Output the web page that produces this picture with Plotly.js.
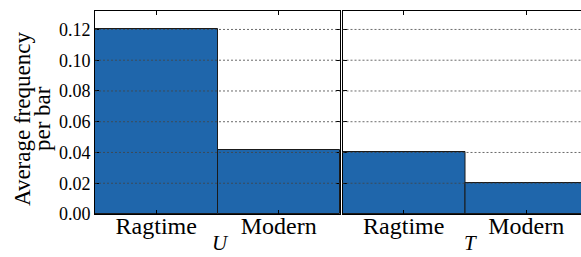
<!DOCTYPE html>
<html><head><meta charset="utf-8">
<script src="https://cdn.plot.ly/plotly-3.0.1.min.js"></script>
<style>
html,body{margin:0;padding:0;background:#fff;}
#chart{width:581px;height:257px;}
</style>
</head><body><div id="chart"></div>
<script>
const categories = ['Ragtime', 'Modern'];
const valuesU = [0.120, 0.0413];
const valuesT = [0.0400, 0.0199];
const yTicks = [0.00, 0.02, 0.04, 0.06, 0.08, 0.10, 0.12];
const yTickLabels = ['0.00', '0.02', '0.04', '0.06', '0.08', '0.10', '0.12'];
const panelTitles = ['U', 'T'];
const yTitleLines = ['Average frequency', 'per bar'];

(function () {
  const figW = 581, figH = 257, mL = 95, mR = 0, mT = 11, mB = 43;
  const plotW = figW - mL - mR;
  const plotH = figH - mT - mB;
  const leftDom = [0, 245 / plotW];
  const rightDom = [(342.5 - mL) / plotW, 1];
  const barColor = '#1f66ab';
  const serifFont = 'Liberation Serif';
  const px2x = p => (p - mL) / plotW;
  const px2y = p => (figH - mB - p) / plotH;

  const traces = [
    {type: 'bar', x: categories, y: valuesU, xaxis: 'x', yaxis: 'y',
     marker: {color: barColor, line: {color: '#1a1a1a', width: 1}}, hoverinfo: 'none'},
    {type: 'bar', x: categories, y: valuesT, xaxis: 'x2', yaxis: 'y2',
     marker: {color: barColor, line: {color: '#1a1a1a', width: 1}}, hoverinfo: 'none'}
  ];

  function xAxis(extra) {
    return Object.assign({
      type: 'category', showline: true, linecolor: '#000', linewidth: 1, mirror: 'allticks',
      ticks: 'inside', ticklen: 4, tickwidth: 1, tickcolor: '#000', showgrid: false, zeroline: false,
      ticklabelstandoff: -10,
      tickfont: {family: serifFont, size: 24, color: '#000'}
    }, extra);
  }
  function yAxis(extra) {
    return Object.assign({
      range: [0, 0.132], tickmode: 'array', tickvals: yTicks, ticktext: yTickLabels,
      showline: true, linecolor: '#000', linewidth: 1,
      ticks: 'inside', ticklen: 4, tickwidth: 1, tickcolor: '#000', showgrid: false, zeroline: false,
      tickfont: {family: serifFont, size: 18, color: '#000'}
    }, extra);
  }

  const shapes = [];
  [['x', 'y'], ['x2', 'y2']].forEach(([xa, ya]) => {
    yTicks.forEach(v => {
      if (v === 0) return;
      shapes.push({type: 'line', layer: 'above', xref: xa + ' domain', yref: ya,
        x0: 0, x1: 1, y0: v, y1: v, line: {color: '#444', width: 0.8, dash: '2px,2px'}});
    });
  });

  const annotations = [
    {text: yTitleLines[0], xref: 'paper', yref: 'paper', x: px2x(22), y: px2y(119),
     xanchor: 'center', yanchor: 'middle', textangle: -90, showarrow: false,
     font: {family: serifFont, size: 23, color: '#000'}},
    {text: yTitleLines[1], xref: 'paper', yref: 'paper', x: px2x(42), y: px2y(119),
     xanchor: 'center', yanchor: 'middle', textangle: -90, showarrow: false,
     font: {family: serifFont, size: 23, color: '#000'}},
    {text: '<i>' + panelTitles[0] + '</i>', xref: 'paper', yref: 'paper', x: px2x(220), y: px2y(257),
     xanchor: 'center', yanchor: 'bottom', showarrow: false, font: {family: serifFont, size: 21, color: '#000'}},
    {text: '<i>' + panelTitles[1] + '</i>', xref: 'paper', yref: 'paper', x: px2x(470), y: px2y(257),
     xanchor: 'center', yanchor: 'bottom', showarrow: false, font: {family: serifFont, size: 21, color: '#000'}}
  ];

  const layout = {
    width: figW, height: figH, margin: {l: mL, r: mR, t: mT, b: mB, pad: 0},
    paper_bgcolor: '#fff', plot_bgcolor: '#fff', showlegend: false, bargap: 0,
    font: {family: serifFont, color: '#000'},
    xaxis: xAxis({domain: leftDom, anchor: 'y', range: [-0.5, 1.5]}),
    yaxis: yAxis({domain: [0, 1], anchor: 'x', mirror: 'allticks'}),
    xaxis2: xAxis({domain: rightDom, anchor: 'y2', range: [-0.5, -0.5 + (figW - 342.5) / 122.5]}),
    yaxis2: yAxis({domain: [0, 1], anchor: 'x2', mirror: false, showticklabels: false}),
    shapes: shapes, annotations: annotations
  };

  Plotly.newPlot('chart', traces, layout, {displayModeBar: false}).then(gd => {
    document.querySelectorAll('#chart .xtick text, #chart .x2tick text, #chart .ytick text').forEach(t => {
      t.style.fontFamily = "'Liberation Serif'";
      void getComputedStyle(t).fontFamily;
    });
    void document.body.offsetHeight;
  });
})();
</script></body></html>
